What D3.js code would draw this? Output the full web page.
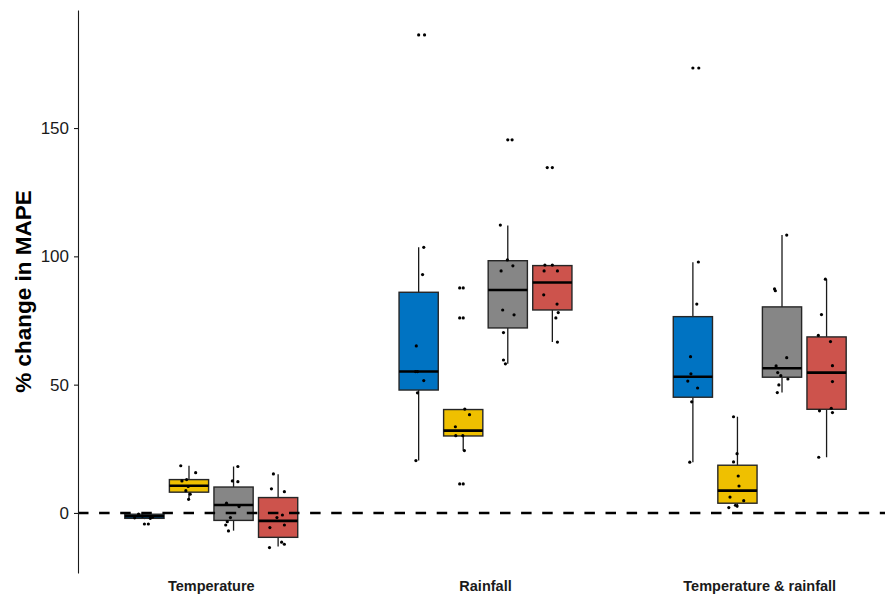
<!DOCTYPE html>
<html>
<head>
<meta charset="utf-8">
<script src="https://cdn.jsdelivr.net/npm/d3@7"></script>
<style>
  html, body { margin: 0; padding: 0; background: #fff; }
  svg { display: block; font-family: "Liberation Sans", Arial, Helvetica, sans-serif; }
</style>
</head>
<body>
<svg id="chart" width="885" height="597"></svg>
<script>
// Scenarios on the x axis
const categories = ["Temperature", "Rainfall", "Temperature & rainfall"];
// Four models compared within each scenario
const seriesKeys = ["m1", "m2", "m3", "m4"];
const seriesColors = ["#0073C2", "#EFC000", "#868686", "#CD534C"];

// Box summaries per scenario, per model: [lower whisker, Q1, median, Q3, upper whisker]
const statsTemperature = [
  [-2.4, -2.1, -1.3, -0.5, -0.1],
  [5.3, 8.1, 10.6, 13.0, 18.4],
  [-6.9, -2.9, 3.1, 10.1, 18.1],
  [-13.1, -9.5, -3.1, 6.0, 15.1]
];
const statsRainfall = [
  [20.4, 47.9, 55.1, 86.0, 103.5],
  [24.3, 30.0, 32.1, 40.3, 40.5],
  [58.1, 72.1, 86.9, 98.3, 112.0],
  [66.6, 79.1, 89.8, 96.4, 96.6]
];
const statsBoth = [
  [19.8, 45.1, 53.1, 76.5, 97.7],
  [2.1, 3.8, 8.7, 18.6, 37.5],
  [46.9, 52.9, 56.4, 80.3, 108.3],
  [21.7, 40.4, 54.7, 68.6, 91.1]
];

// Outlying values shown by the box plots
const outliersTemperature = [[-4.3], [], [], []];
const outliersRainfall = [[186.3], [87.7, 76.0, 11.3], [145.4], [134.6]];
const outliersBoth = [[173.4], [], [], []];

// Individual results: [horizontal jitter as a fraction of box width, % change]
const pointsTemperature = [
  [[0.10, -4.3], [-0.05, -1.2], [0.15, -2.1], [-0.15, -0.4], [0.21, -1.6], [-0.25, -1.9]],
  [[-0.21, 18.4], [0.17, 15.7], [-0.18, 12.5], [-0.06, 13.0], [-0.02, 10.3], [-0.08, 8.7], [0.03, 7.3], [-0.01, 5.3]],
  [[0.11, 18.1], [-0.03, 12.5], [0.11, 12.2], [-0.18, 3.8], [0.14, 2.5], [-0.08, -1.8], [-0.16, -3.4], [-0.20, -4.7], [-0.13, -7.0]],
  [[-0.12, 15.2], [-0.17, 9.4], [0.16, 8.3], [0.11, -0.8], [-0.03, -1.8], [-0.21, -5.7], [0.16, -4.7], [-0.22, -13.5], [0.09, -11.4], [0.16, -12.2]]
];
const pointsRainfall = [
  [[0.13, 103.5], [0.10, 92.9], [-0.06, 65.1], [-0.08, 55.1], [-0.03, 55.1], [0.13, 51.6], [-0.03, 46.8], [-0.07, 20.4], [0.15, 186.3]],
  [[0.04, 40.5], [0.16, 38.3], [-0.20, 33.6], [-0.19, 30.1], [-0.01, 30.1], [0.03, 24.3], [-0.09, 87.7], [-0.09, 76.0], [-0.09, 11.3]],
  [[-0.19, 112.2], [-0.01, 98.6], [0.13, 96.3], [-0.17, 94.3], [-0.13, 79.1], [0.16, 77.2], [-0.11, 70.3], [-0.11, 59.6], [-0.06, 58.1], [0.11, 145.4]],
  [[-0.19, 96.6], [0.00, 96.6], [-0.21, 94.3], [0.13, 94.3], [-0.22, 85.0], [0.12, 81.4], [0.15, 78.1], [0.09, 76.0], [0.13, 66.6], [-0.13, 134.6]]
];
const pointsBoth = [
  [[0.14, 97.8], [0.10, 81.4], [-0.06, 60.9], [-0.05, 54.2], [-0.13, 51.4], [0.12, 48.7], [-0.03, 43.3], [-0.08, 19.8], [0.15, 173.4]],
  [[-0.10, 37.5], [-0.01, 23.1], [-0.10, 19.9], [0.02, 14.4], [0.04, 10.5], [-0.19, 6.2], [0.16, 4.8], [-0.05, 3.0], [-0.01, 2.7], [-0.22, 2.1]],
  [[0.12, 108.3], [-0.19, 87.3], [-0.17, 86.6], [0.12, 60.5], [-0.15, 57.3], [-0.11, 54.7], [-0.03, 53.5], [0.15, 52.2], [-0.08, 49.9], [-0.12, 46.9]],
  [[-0.03, 91.1], [-0.13, 77.3], [-0.21, 69.2], [0.10, 66.8], [0.15, 57.4], [0.15, 51.2], [-0.18, 39.8], [0.12, 40.8], [0.15, 39.1], [-0.20, 21.7]]
];

const yTicks = [0, 50, 100, 150];
const yTitle = "% change in MAPE";

// Assemble one record per box
const statsByCat = [statsTemperature, statsRainfall, statsBoth];
const outliersByCat = [outliersTemperature, outliersRainfall, outliersBoth];
const pointsByCat = [pointsTemperature, pointsRainfall, pointsBoth];
const boxes = [];
categories.forEach((cat, ci) => {
  seriesKeys.forEach((key, si) => {
    const s = statsByCat[ci][si];
    boxes.push({
      cat, key, color: seriesColors[si],
      lo: s[0], q1: s[1], med: s[2], q3: s[3], hi: s[4],
      outliers: outliersByCat[ci][si],
      points: pointsByCat[ci][si]
    });
  });
});

const svg = d3.select("#chart");
const panel = { left: 78, right: 893, top: 10, bottom: 573 };

const x = d3.scalePoint()
  .domain(categories)
  .range([panel.left, panel.right])
  .padding(0.486);

const dodge = 0.65 * x.step();
const xInner = d3.scaleBand()
  .domain(seriesKeys)
  .range([-dodge / 2, dodge / 2])
  .paddingInner(0.12)
  .paddingOuter(0.06);
const bw = xInner.bandwidth();

const y = d3.scaleLinear()
  .domain([-23.4, 196])
  .range([panel.bottom, panel.top]);

const cx = d => x(d.cat) + xInner(d.key) + bw / 2;

// Boxes
const g = svg.append("g");
const box = g.selectAll("g.box").data(boxes).join("g").attr("class", "box");

box.append("line")
  .attr("x1", cx).attr("x2", cx)
  .attr("y1", d => y(d.q3)).attr("y2", d => y(d.hi))
  .attr("stroke", "#1a1a1a").attr("stroke-width", 1.3);
box.append("line")
  .attr("x1", cx).attr("x2", cx)
  .attr("y1", d => y(d.q1)).attr("y2", d => y(d.lo))
  .attr("stroke", "#1a1a1a").attr("stroke-width", 1.3);
box.append("rect")
  .attr("x", d => cx(d) - bw / 2)
  .attr("width", bw)
  .attr("y", d => y(d.q3))
  .attr("height", d => Math.max(1, y(d.q1) - y(d.q3)))
  .attr("fill", d => d.color)
  .attr("stroke", "#262626")
  .attr("stroke-width", 1.4);
box.append("line")
  .attr("x1", d => cx(d) - bw / 2).attr("x2", d => cx(d) + bw / 2)
  .attr("y1", d => y(d.med)).attr("y2", d => y(d.med))
  .attr("stroke", "#000").attr("stroke-width", 2.6);

// Outliers at the box centre
box.selectAll("circle.out")
  .data(d => d.outliers.map(v => ({ d, v })))
  .join("circle")
  .attr("class", "out")
  .attr("cx", o => cx(o.d))
  .attr("cy", o => y(o.v))
  .attr("r", 1.6)
  .attr("fill", "#000");

// Zero reference line
svg.append("line")
  .attr("x1", panel.left).attr("x2", 885)
  .attr("y1", y(0)).attr("y2", y(0))
  .attr("stroke", "#000")
  .attr("stroke-width", 2.4)
  .attr("stroke-dasharray", "10.5,10.6");

// Jittered individual results
box.selectAll("circle.pt")
  .data(d => d.points.map(p => ({ d, p })))
  .join("circle")
  .attr("class", "pt")
  .attr("cx", o => cx(o.d) + o.p[0] * bw)
  .attr("cy", o => y(o.p[1]))
  .attr("r", 1.6)
  .attr("fill", "#000");

// Y axis
const yAxis = svg.append("g")
  .attr("transform", `translate(${panel.left},0)`)
  .call(d3.axisLeft(y).tickValues(yTicks).tickSize(4).tickSizeOuter(0).tickPadding(5));
yAxis.select(".domain").attr("stroke", "#1a1a1a").attr("stroke-width", 1.1);
yAxis.selectAll(".tick line").attr("stroke", "#1a1a1a").attr("stroke-width", 1.1);
yAxis.selectAll(".tick text")
  .attr("font-size", 17)
  .attr("fill", "#1a1a1a")
  .attr("font-family", "Liberation Sans, Arial, sans-serif");

svg.append("text")
  .attr("transform", `translate(31,${(panel.top + panel.bottom) / 2}) rotate(-90)`)
  .attr("text-anchor", "middle")
  .attr("font-size", 22.5)
  .attr("font-weight", "bold")
  .attr("fill", "#000")
  .text(yTitle);

// Category labels
svg.append("g").selectAll("text")
  .data(categories)
  .join("text")
  .attr("x", d => x(d))
  .attr("y", 591)
  .attr("text-anchor", "middle")
  .attr("font-size", 14.5)
  .attr("font-weight", "bold")
  .attr("fill", "#1a1a1a")
  .text(d => d);
</script>
</body>
</html>
